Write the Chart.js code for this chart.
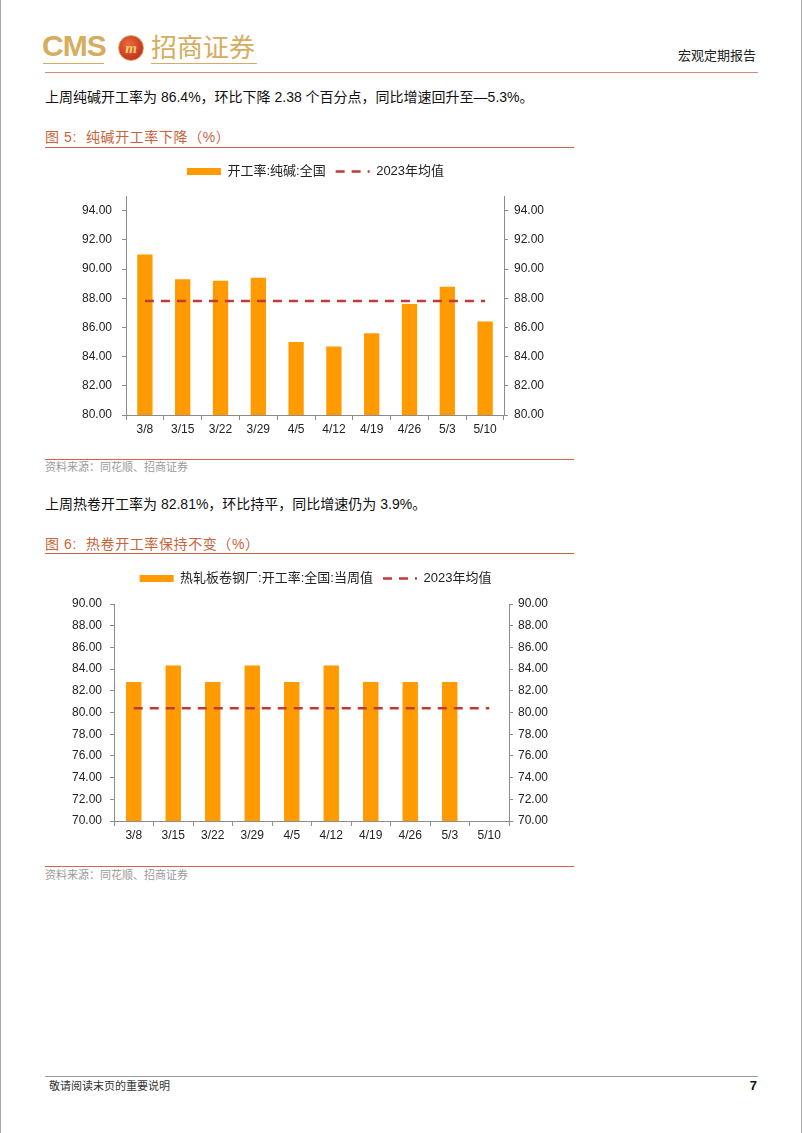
<!DOCTYPE html>
<html>
<head>
<meta charset="utf-8">
<script src="https://cdn.jsdelivr.net/npm/chart.js@4.4.1/dist/chart.umd.min.js"></script>
<style>
  body { margin: 0; background: #fff; }
  #page { position: relative; width: 800px; height: 1133px; border-left: 1px solid #aaa; border-right: 1px solid #aaa; overflow: hidden;
          font-family: 'Liberation Sans', 'Noto Sans CJK SC', sans-serif; color: #111; }
  .abs { position: absolute; white-space: nowrap; }
  .rule { position: absolute; height: 1px; }
  .para { font-size: 14px; line-height: 14px; }
  .figtitle { font-size: 14px; line-height: 14px; color: #c8643c; letter-spacing: 0.6px; }
  .src { font-size: 11px; line-height: 11px; color: #9a9a9a; }
  canvas { position: absolute; }
</style>
</head>
<body>
<div id="page">
  <!-- header -->
  <div class="abs" style="left:41px;top:31px;font-size:30px;line-height:30px;font-weight:bold;color:#d6ac5e;letter-spacing:-1px;">CMS</div>
  <div class="rule" style="left:42px;top:63px;width:61px;background:#d6ac5e;"></div>
  <div class="abs" style="left:117px;top:35px;width:24px;height:24px;border-radius:50%;background:radial-gradient(circle at 40% 35%,#ee6a3c,#b51f18);border:1px solid #d6ac5e;color:#f6d36a;font:italic bold 15px/24px 'Liberation Serif',serif;text-align:center;">m</div>
  <div class="abs" style="left:150px;top:33px;font-size:26px;line-height:26px;color:#d6ac5e;font-family:'Noto Sans CJK SC',sans-serif;">招商证券</div>
  <div class="rule" style="left:150px;top:63px;width:106px;background:#d6ac5e;"></div>
  <div class="abs" style="right:45px;top:49px;font-size:13px;line-height:13px;color:#222;">宏观定期报告</div>
  <div class="rule" style="left:44px;top:72px;width:713px;background:#dc8a78;"></div>

  <div class="abs para" style="left:44px;top:90px;">上周纯碱开工率为 86.4%，环比下降 2.38 个百分点，同比增速回升至—5.3%。</div>
  <div class="abs figtitle" style="left:44px;top:130px;">图 5:&nbsp; 纯碱开工率下降（%）</div>
  <div class="rule" style="left:44px;top:147px;width:529px;background:#c8643c;"></div>
  <canvas id="sodaChart" width="549" height="300" style="left:40px;top:150px;"></canvas>
  <div class="rule" style="left:44px;top:459px;width:529px;background:#d9604a;"></div>
  <div class="abs src" style="left:44px;top:462px;">资料来源：同花顺、招商证券</div>

  <div class="abs para" style="left:44px;top:497px;">上周热卷开工率为 82.81%，环比持平，同比增速仍为 3.9%。</div>
  <div class="abs figtitle" style="left:44px;top:537px;">图 6:&nbsp; 热卷开工率保持不变（%）</div>
  <div class="rule" style="left:44px;top:553px;width:529px;background:#c8643c;"></div>
  <canvas id="coilChart" width="569" height="300" style="left:30px;top:555px;"></canvas>
  <div class="rule" style="left:44px;top:866px;width:529px;background:#d9604a;"></div>
  <div class="abs src" style="left:44px;top:870px;">资料来源：同花顺、招商证券</div>

  <!-- footer -->
  <div class="rule" style="left:44px;top:1076px;width:713px;background:#999;"></div>
  <div class="abs" style="left:48px;top:1081px;font-size:11px;line-height:11px;color:#333;">敬请阅读末页的重要说明</div>
  <div class="abs" style="right:44px;top:1079px;font-size:13px;line-height:13px;font-weight:bold;color:#111;">7</div>
</div>

<script>
// 周度日期
const weeks = ['3/8', '3/15', '3/22', '3/29', '4/5', '4/12', '4/19', '4/26', '5/3', '5/10'];

// 图5 纯碱开工率
const sodaRate = [91.0, 89.3, 89.2, 89.4, 85.0, 84.7, 85.6, 87.6, 88.78, 86.4];
const sodaAvg2023 = [87.8, 87.8, 87.8, 87.8, 87.8, 87.8, 87.8, 87.8, 87.8, 87.8];
const sodaTicks = [80, 82, 84, 86, 88, 90, 92, 94];

// 图6 热卷开工率
const coilRate = [82.81, 84.34, 82.81, 84.34, 82.81, 84.34, 82.81, 82.81, 82.81, null];
const coilAvg2023 = [80.4, 80.4, 80.4, 80.4, 80.4, 80.4, 80.4, 80.4, 80.4, 80.4];
const coilTicks = [70, 72, 74, 76, 78, 80, 82, 84, 86, 88, 90];

const BAR_COLOR = '#ff9a00';
const AVG_COLOR = '#c23a36';
const AXIS_COLOR = '#8c8c8c';
const FONT = "'Liberation Sans', 'Noto Sans CJK SC', sans-serif";

// 加大图例和绘图区之间的距离 (v4 的 legend 没有 afterFit, 直接包一层 fit)
const legendGap = {
    id: 'legendGap',
    beforeLayout(chart, args, opts) {
        const lg = chart.legend;
        if (lg && !lg._gapSet) {
            lg._gapSet = true;
            const origFit = lg.fit;
            lg.fit = function() {
                origFit.call(this);
                this.height += opts.gap || 0;
            };
        }
    }
};

// 图例: 均值线画成虚线
function legendLabels(chart) {
    const items = Chart.defaults.plugins.legend.labels.generateLabels(chart);
    items.forEach(it => {
        const ds = chart.data.datasets[it.datasetIndex];
        if (ds.type === 'line') {
            it.lineDash = ds.borderDash;
            it.lineWidth = ds.borderWidth;
            it.strokeStyle = ds.borderColor;
        }
    });
    return items;
}

function yAxis(side, min, max, tickList, width, padding) {
    return {
        position: side,
        min: min,
        max: max,
        afterBuildTicks: (scale) => { scale.ticks = tickList.map(v => ({ value: v })); },
        afterFit: (scale) => { scale.width = width; },
        border: { color: AXIS_COLOR, width: 1 },
        grid: { drawOnChartArea: false, tickLength: 4, color: AXIS_COLOR },
        ticks: {
            padding: padding,
            color: '#222',
            font: { family: FONT, size: 12 },
            callback: (v) => Number(v).toFixed(2)
        }
    };
}

function makeChart(id, label, rate, avg, min, max, tickList, cfg) {
    const ctx = document.getElementById(id).getContext('2d');
    return new Chart(ctx, {
        type: 'bar',
        data: {
            labels: weeks,
            datasets: [
                {
                    type: 'bar',
                    label: label,
                    data: rate,
                    backgroundColor: BAR_COLOR,
                    borderWidth: 0,
                    pointStyle: 'rect',
                    categoryPercentage: 1,
                    barPercentage: cfg.barPct,
                    yAxisID: 'y',
                    order: 2
                },
                {
                    type: 'line',
                    label: '2023年均值',
                    data: avg,
                    borderColor: AVG_COLOR,
                    backgroundColor: AVG_COLOR,
                    borderWidth: 2.5,
                    borderDash: [9, 7],
                    pointRadius: 0,
                    pointStyle: 'line',
                    fill: false,
                    yAxisID: 'y1',
                    order: 1
                }
            ]
        },
        options: {
            responsive: false,
            animation: false,
            layout: { padding: { top: cfg.padTop, bottom: 0, left: 0, right: 0 } },
            plugins: {
                legendGap: { gap: cfg.gap },
                legend: {
                    position: 'top',
                    labels: {
                        usePointStyle: true,
                        pointStyleWidth: 34,
                        boxHeight: 7,
                        padding: 10,
                        color: '#222',
                        font: { family: FONT, size: 13 },
                        generateLabels: legendLabels,
                        sort: (a, b) => a.datasetIndex - b.datasetIndex
                    }
                },
                tooltip: { enabled: false }
            },
            scales: {
                x: {
                    offset: true,
                    afterFit: (scale) => { scale.height = cfg.xHeight; },
                    border: { color: AXIS_COLOR, width: 1 },
                    grid: { offset: true, drawOnChartArea: false, tickLength: 5, color: AXIS_COLOR },
                    ticks: { padding: 2, color: '#222', font: { family: FONT, size: 12 }, maxRotation: 0 }
                },
                y: yAxis('left', min, max, tickList, cfg.leftW, cfg.leftPad),
                y1: yAxis('right', min, max, tickList, cfg.rightW, cfg.rightPad)
            }
        },
        plugins: [legendGap]
    });
}

makeChart('sodaChart', '开工率:纯碱:全国', sodaRate, sodaAvg2023, 80, 95, sodaTicks,
    { barPct: 0.405, padTop: 5, gap: 8, xHeight: 35, leftW: 85, rightW: 86, leftPad: 10, rightPad: 6 });

makeChart('coilChart', '热轧板卷钢厂:开工率:全国:当周值', coilRate, coilAvg2023, 70, 90, coilTicks,
    { barPct: 0.39, padTop: 7, gap: 9, xHeight: 34, leftW: 83, rightW: 91, leftPad: 8, rightPad: 5 });
</script>
</body>
</html>
